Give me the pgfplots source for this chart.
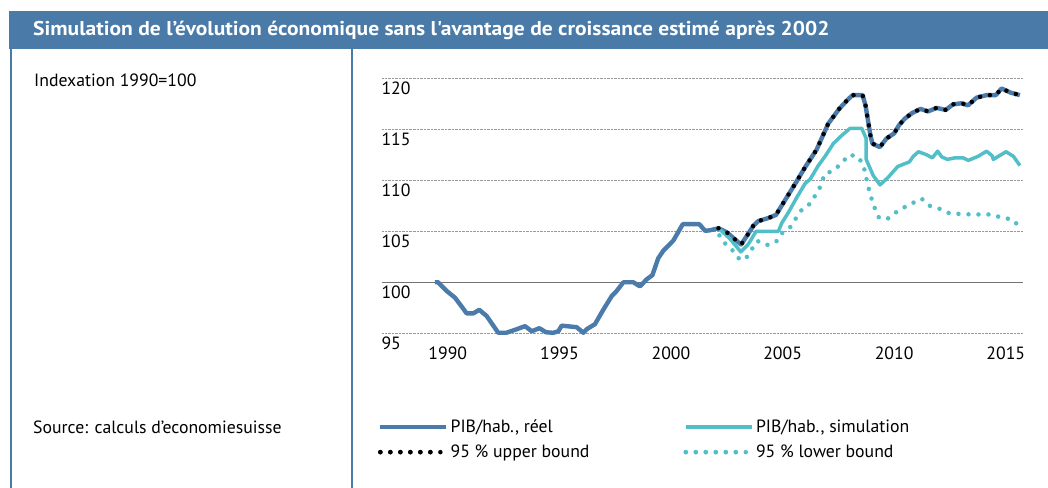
\documentclass[border=0pt]{standalone}
\usepackage{pgfplots}
\pgfplotsset{compat=1.18}
\usepackage{fontspec}
\setmainfont{PT Sans}
\newfontfamily\titlefont{PT Sans}[FakeStretch=1.08]
\definecolor{cblue}{HTML}{4A7BAA}
\definecolor{cteal}{HTML}{52BEC7}
\definecolor{cbanner}{HTML}{4A7BA8}
\newcommand{\fs}{\fontsize{17.8}{21}\selectfont}

\pgfplotstableread{
t v
1990.0 100.0
1990.15 100.0
1990.53 99.15
1990.9 98.5
1991.43 96.95
1991.72 96.95
1991.99 97.3
1992.32 96.7
1992.84 95.05
1993.2 95.05
1993.67 95.4
1994.04 95.7
1994.34 95.2
1994.68 95.5
1994.98 95.1
1995.3 95.05
1995.53 95.2
1995.68 95.75
1996.35 95.6
1996.65 95.05
1996.8 95.4
1997.17 95.9
1997.54 97.3
1997.92 98.65
1998.14 99.15
1998.44 100.0
1998.89 100.0
1999.18 99.6
1999.49 100.3
1999.74 100.7
2000.0 102.35
2000.23 103.1
2000.68 104.1
2001.1 105.7
2001.84 105.7
2002.1 105.05
2002.32 105.1
2002.7 105.3
2003.07 104.9
2003.44 104.2
2003.71 103.7
2003.97 104.55
2004.26 105.55
2004.48 106.0
2004.93 106.3
2005.27 106.6
2005.72 108.2
2006.17 109.8
2006.61 111.4
2007.09 113.0
2007.61 115.55
2008.1 117.0
2008.44 117.8
2008.7 118.35
2009.15 118.35
2009.28 117.35
2009.5 114.4
2009.59 113.6
2009.92 113.25
2010.22 114.1
2010.56 114.6
2010.78 115.4
2011.04 116.05
2011.37 116.6
2011.74 117.0
2012.08 116.75
2012.46 117.1
2012.87 116.9
2013.2 117.45
2013.58 117.55
2013.87 117.35
2014.25 118.1
2014.7 118.35
2015.11 118.35
2015.37 119.0
2015.77 118.6
2016.19 118.35
}\tabreal

\pgfplotstableread{
t v
2002.7 105.3
2003.07 104.9
2003.44 104.2
2003.71 103.7
2003.97 104.55
2004.26 105.55
2004.48 106.0
2004.93 106.3
2005.27 106.6
2005.72 108.2
2006.17 109.8
2006.61 111.4
2007.09 113.0
2007.61 115.55
2008.1 117.0
2008.44 117.8
2008.7 118.35
2009.15 118.35
2009.28 117.35
2009.5 114.4
2009.59 113.6
2009.92 113.25
2010.22 114.1
2010.56 114.6
2010.78 115.4
2011.04 116.05
2011.37 116.6
2011.74 117.0
2012.08 116.75
2012.46 117.1
2012.87 116.9
2013.2 117.45
2013.58 117.55
2013.87 117.35
2014.25 118.1
2014.7 118.35
2015.11 118.35
2015.37 119.0
2015.77 118.6
2016.19 118.35
}\tabup

\pgfplotstableread{
t v
2002.7 105.3
2003.22 104.25
2003.7 102.98
2004.04 103.75
2004.38 105.0
2005.38 105.0
2005.53 105.8
2005.83 106.85
2006.2 108.3
2006.58 109.7
2006.8 110.1
2007.17 111.45
2007.47 112.35
2007.84 113.6
2008.22 114.4
2008.59 115.1
2009.11 115.1
2009.31 114.1
2009.31 112.05
2009.63 110.45
2009.93 109.55
2010.3 110.3
2010.72 111.35
2011.24 111.8
2011.42 112.35
2011.65 112.8
2012.02 112.5
2012.27 112.2
2012.51 112.85
2012.69 112.3
2012.94 112.05
2013.28 112.2
2013.65 112.2
2013.88 111.95
2014.32 112.35
2014.7 112.85
2014.95 112.4
2015.0 112.05
2015.57 112.8
2015.9 112.35
2016.19 111.45
}\tabsim

\pgfplotstableread{
t v
2002.74 104.6
2003.0 103.8
2003.34 103.1
2003.66 102.2
2003.93 102.35
2004.19 103.25
2004.44 104.05
2004.86 103.65
2005.27 103.95
2005.53 104.8
2005.93 105.45
2006.2 106.4
2006.47 107.25
2006.84 107.75
2007.06 108.65
2007.32 109.6
2007.42 110.55
2007.87 111.0
2008.22 111.7
2008.54 112.5
2008.92 112.35
2009.18 111.55
2009.29 110.45
2009.4 109.4
2009.52 108.4
2009.67 107.4
2009.88 106.35
2010.25 106.2
2010.6 106.8
2010.97 107.3
2011.37 107.75
2011.79 108.2
2012.16 107.5
2012.6 107.2
2013.05 106.75
2013.54 106.7
2014.02 106.65
2014.47 106.65
2014.95 106.65
2015.4 106.3
2015.82 106.2
2016.16 105.5
}\tablow

\begin{document}
\begin{tikzpicture}
\useasboundingbox (0bp,0bp) rectangle (1048bp,488bp);
\fill[white] (0bp,0bp) rectangle (1048bp,488bp);
\fill[cbanner] (9bp,439bp) rectangle (1048bp,477bp);
\node[anchor=west, text=white, inner sep=0pt, font=\titlefont\fontsize{20}{23}\selectfont\bfseries] at (33bp,457.5bp) {Simulation de l’évolution économique sans l'avantage de croissance estimé après 2002};
\draw[cbanner, line width=2bp] (10.5bp,0bp) -- (10.5bp,439bp);
\draw[cbanner, line width=2bp] (352bp,0bp) -- (352bp,439bp);
\node[anchor=west, inner sep=0pt, font=\fs] at (34bp,408bp) {Indexation 1990=100};
\node[anchor=west, inner sep=0pt, font=\fs] at (33bp,61bp) {Source: calculs d’economiesuisse};

\begin{axis}[
  at={(382bp,144.5bp)}, anchor=south west,
  scale only axis, width=641bp, height=275.4bp,
  xmin=1987.637, xmax=2016.33, ymin=94, ymax=121,
  axis line style={draw=none},
  major tick length=0pt,
  ytick={95,100,...,120},
  xtick={1990.58,1995.58,2000.57,2005.57,2010.56,2015.56},
  xticklabels={1990,1995,2000,2005,2010,2015},
  ymajorgrids,
  major grid style={densely dotted, gray!80, line width=0.6bp},
  extra y ticks={100},
  extra y tick labels={},
  extra y tick style={grid=major, major grid style={solid, gray!90!black, line width=1.2bp}},
  /pgf/number format/assume math mode=true,
  yticklabel style={anchor=north west, xshift=-4bp, yshift=-0.5bp, font=\fs},
  xticklabel style={anchor=north, yshift=0bp, font=\fs},
  legend columns=2,
  legend cell align=left,
  legend style={at={(axis description cs:-0.011,-0.262)}, anchor=north west, draw=none, fill=none, font=\fs, row sep=7bp,
    /tikz/every even column/.append style={column sep=92bp}},
  legend image code/.code={\path (0bp,0bp) -- (66bp,0bp); \draw[#1] (0bp,0bp) -- (57bp,0bp);},
]
\addplot[cblue, line width=4.4bp, line join=round] table[x=t,y=v] {\tabreal};
\addlegendentry{PIB/hab., réel}
\addplot[cteal, line width=3.5bp, line join=round] table[x=t,y=v] {\tabsim};
\addlegendentry{PIB/hab., simulation}
\addplot[black, line width=4.5bp, line cap=round, dash pattern=on 0bp off 10bp] table[x=t,y=v] {\tabup};
\addlegendentry{95 \% upper bound}
\addplot[cteal, line width=4.5bp, line cap=round, dash pattern=on 0bp off 10bp] table[x=t,y=v] {\tablow};
\addlegendentry{95 \% lower bound}
\end{axis}
\end{tikzpicture}
\end{document}
